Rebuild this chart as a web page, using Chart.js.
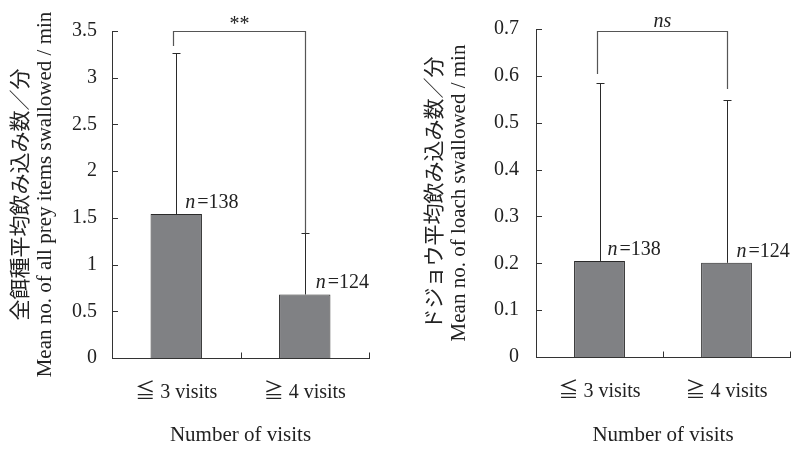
<!DOCTYPE html>
<html><head><meta charset="utf-8">
<script src="https://cdn.jsdelivr.net/npm/chart.js@4.4.1/dist/chart.umd.min.js"></script>
<style>
body{margin:0;background:#fff;}
#wrap{position:relative;width:796px;height:450px;background:#fff;}
canvas{position:absolute;top:0;}
</style>
</head><body>
<div id="wrap">
<canvas id="c1" width="398" height="450" style="left:0;width:398px;height:450px"></canvas>
<canvas id="c2" width="398" height="450" style="left:398px;width:398px;height:450px"></canvas>
</div>
<script>
// ---- data ----
const categories = ['≦ 3 visits', '≧ 4 visits'];
const allPreyMeans = [1.54, 0.68];
const allPreySD = [1.72, 0.655];
const loachMeans = [0.205, 0.201];
const loachSD = [0.38, 0.348];
const sampleSizes = [138, 124];
const allPreyTicks = ['0', '0.5', '1', '1.5', '2', '2.5', '3', '3.5'];
const loachTicks = ['0', '0.1', '0.2', '0.3', '0.4', '0.5', '0.6', '0.7'];
const allPreyBracket = [3.5, 3.34, 1.335];   // top, left-leg end, right-leg end (data values)
const loachBracket = [0.695, 0.604, 0.572];
const significance = ['**', 'ns'];
const allPreyTitle = ['全餌種平均飲み込み数／分', 'Mean no. of all prey items swallowed / min'];
const loachTitle = ['ドジョウ平均飲み込み数／分', 'Mean no. of loach swallowed / min'];
const xTitle = 'Number of visits';

const SERIF = '"Liberation Serif", "Noto Sans CJK JP", serif';
const INK = '#222';

const annot = {
  id: 'annot',
  afterDatasetsDraw(chart, args, o) {
    const ctx = chart.ctx, xs = chart.scales.x, ys = chart.scales.y, ca = chart.chartArea;
    const meta = chart.getDatasetMeta(0);
    const r = v => Math.round(v) + 0.5;
    const seg = (x1, y1, x2, y2) => { ctx.beginPath(); ctx.moveTo(x1, y1); ctx.lineTo(x2, y2); ctx.stroke(); };
    ctx.save();
    ctx.strokeStyle = '#333'; ctx.lineWidth = 1;
    // inward y ticks
    ys.ticks.forEach((t, i) => { const py = r(ys.getPixelForTick(i)); seg(ca.left, py, ca.left + 6, py); });
    // x ticks (category boundary + right end), pointing up
    const xb = r((xs.getPixelForValue(0) + xs.getPixelForValue(1)) / 2);
    const yb = r(ca.bottom);
    seg(xb, yb, xb, yb - 6);
    seg(r(ca.right), yb, r(ca.right), yb - 6);
    // error bars
    ctx.strokeStyle = '#2a2a2a';
    o.means.forEach((m, i) => {
      const px = r(meta.data[i].x);
      const pt = r(ys.getPixelForValue(m + o.sd[i]));
      const pb = ys.getPixelForValue(m);
      seg(px, pb, px, pt);
      seg(px - 4, pt, px + 4, pt);
    });
    // bracket
    const [bt, bl, br] = o.bracket;
    const lx = r(meta.data[0].x - 3), rx = r(meta.data[1].x + 0.5);
    ctx.strokeStyle = '#555'; ctx.lineWidth = 1.2;
    ctx.beginPath();
    ctx.moveTo(lx, ys.getPixelForValue(bl));
    ctx.lineTo(lx, r(ys.getPixelForValue(bt)));
    ctx.lineTo(rx, r(ys.getPixelForValue(bt)));
    ctx.lineTo(rx, ys.getPixelForValue(br));
    ctx.stroke();
    // significance label
    ctx.fillStyle = INK;
    ctx.textAlign = 'center';
    ctx.textBaseline = 'alphabetic';
    ctx.font = (o.sigItalic ? 'italic ' : '') + '20px ' + SERIF;
    ctx.fillText(o.sig, (lx + rx) / 2, ys.getPixelForValue(bt) + o.sigDy);
    // n labels
    ctx.textAlign = 'left';
    o.means.forEach((m, i) => {
      const px = meta.data[i].x + o.nDx[i];
      const py = ys.getPixelForValue(m) - 6;
      ctx.font = 'italic 20px ' + SERIF;
      ctx.fillText('n', px, py);
      const w = ctx.measureText('n').width;
      ctx.font = '20px ' + SERIF;
      ctx.fillText('=' + o.n[i], px + w + 2, py);
    });
    ctx.restore();
  }
};

function makeChart(id, means, sd, tickLabels, yTitle, geom, ann) {
  return new Chart(document.getElementById(id), {
    type: 'bar',
    data: {
      labels: categories,
      datasets: [{
        data: means,
        backgroundColor: '#808184',
        borderColor: '#2a2a2a',
        borderWidth: 1,
        categoryPercentage: 1,
        barPercentage: 0.4
      }]
    },
    plugins: [annot],
    options: {
      responsive: false,
      animation: false,
      devicePixelRatio: 1,
      layout: { padding: { left: 0, top: geom.top, right: geom.right, bottom: 0 } },
      plugins: { legend: { display: false }, tooltip: { enabled: false }, annot: ann },
      scales: {
        x: {
          grid: { display: false, drawTicks: false },
          border: { display: true, color: '#333', width: 1 },
          ticks: { color: INK, font: { family: SERIF, size: 20 }, padding: 23, maxRotation: 0, autoSkip: false },
          title: { display: true, text: xTitle, color: INK, font: { family: SERIF, size: 21, lineHeight: 1.2 }, padding: { top: 0, bottom: 1.5 } },
          afterFit: s => { s.height = geom.xh; }
        },
        y: {
          min: 0,
          max: parseFloat(tickLabels[tickLabels.length - 1]),
          grid: { display: false, drawTicks: false },
          border: { display: true, color: '#333', width: 1 },
          afterBuildTicks: s => { s.ticks = tickLabels.map(v => ({ value: parseFloat(v) })); },
          ticks: { color: INK, font: { family: SERIF, size: 20 }, padding: geom.tp, callback: (v, i) => tickLabels[i] },
          title: { display: true, text: yTitle, color: INK, font: { family: SERIF, size: 21, lineHeight: 1.15 }, padding: { top: geom.yt, bottom: 0 } },
          afterFit: s => { s.width = geom.yw; }
        }
      }
    }
  });
}

makeChart('c1', allPreyMeans, allPreySD, allPreyTicks, allPreyTitle,
  { top: 31, right: 29, xh: 92, yw: 112, tp: 15, yt: 9.5 },
  { means: allPreyMeans, sd: allPreySD, n: sampleSizes, bracket: allPreyBracket, sig: significance[0], sigItalic: false, sigDy: -1, nDx: [9, 11] });
makeChart('c2', loachMeans, loachSD, loachTicks, loachTitle,
  { top: 28, right: 6, xh: 93, yw: 138, tp: 17, yt: 25 },
  { means: loachMeans, sd: loachSD, n: sampleSizes, bracket: loachBracket, sig: significance[1], sigItalic: true, sigDy: -4, nDx: [8, 10] });
</script>
</body></html>
